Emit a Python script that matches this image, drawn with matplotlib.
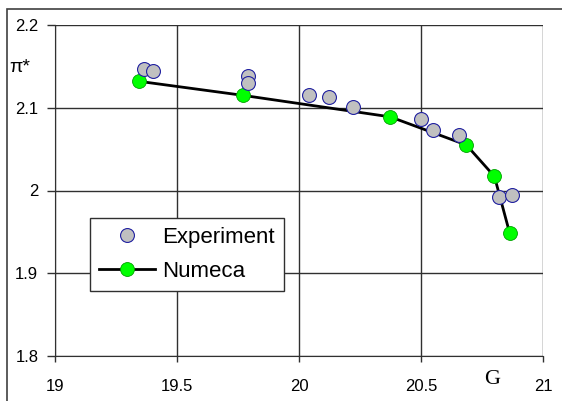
import matplotlib.pyplot as plt
from matplotlib.patches import Rectangle

# Experiment points (G, pi*)
exp_g = [19.363, 19.402, 19.793, 19.793, 20.043, 20.123, 20.221,
         20.501, 20.548, 20.657, 20.818, 20.874]
exp_pi = [2.147, 2.145, 2.138, 2.130, 2.116, 2.113, 2.101,
          2.086, 2.073, 2.067, 1.992, 1.995]

# Numeca calculation
num_g = [19.343, 19.770, 20.374, 20.686, 20.801, 20.863]
num_pi = [2.132, 2.115, 2.089, 2.055, 2.017, 1.949]

x_ticks = [19, 19.5, 20, 20.5, 21]
x_labels = ['19', '19.5', '20', '20.5', '21']
y_ticks = [1.8, 1.9, 2.0, 2.1, 2.2]
y_labels = ['1.8', '1.9', '2', '2.1', '2.2']

plt.rcParams['font.family'] = ['Liberation Sans', 'DejaVu Sans']

fig = plt.figure(figsize=(5.62, 4.01), dpi=100)
ax = fig.add_axes([55 / 562, 1 - 356 / 401, 488 / 562, 331 / 401])

# outer chart frame
fig.patches.append(Rectangle((7 / 562, -0.1), 1.2, 1.1 - 9 / 401,
                             transform=fig.transFigure, fill=False,
                             edgecolor='#404040', linewidth=1.2))

ax.plot(num_g, num_pi, color='black', linewidth=2, marker='o',
        markersize=10, markerfacecolor='#00ff00', markeredgecolor='#00a000',
        markeredgewidth=0.6, label='Numeca', zorder=3)
ax.plot(exp_g, exp_pi, linestyle='none', marker='o', markersize=10,
        markerfacecolor='#c0c0c0', markeredgecolor='#2020a0',
        markeredgewidth=0.8, label='Experiment', zorder=4)

ax.set_xlim(19, 21)
ax.set_ylim(1.8, 2.2)
ax.set_xticks(x_ticks)
ax.set_xticklabels(x_labels)
ax.set_yticks(y_ticks)
ax.set_yticklabels(y_labels)
ax.tick_params(direction='out', width=1, colors='#303030',
               labelsize=12, labelcolor='black')
ax.tick_params(axis='x', length=4.5, pad=12)
ax.tick_params(axis='y', length=6, pad=6)
ax.grid(True, color='#303030', linewidth=1)
ax.set_axisbelow(True)
for side in ['top', 'right']:
    ax.spines[side].set_visible(False)
for side in ['left', 'bottom']:
    ax.spines[side].set_color('#303030')

fig.text(9 / 562, 1 - 67 / 401, 'π*', fontsize=14, va='center', ha='left')
fig.text(492 / 562, 1 - 379 / 401, 'G', fontsize=16, va='center',
         ha='center', family='Liberation Serif')

handles, labels = ax.get_legend_handles_labels()
leg = ax.legend(handles[::-1], labels[::-1], loc='lower left',
                bbox_to_anchor=(0.072, 0.196), borderaxespad=0,
                fontsize=16, handlelength=2.5, handletextpad=0.35,
                borderpad=0.4, labelspacing=0.6, fancybox=False,
                framealpha=1, edgecolor='#303030')
leg.get_frame().set_linewidth(1)

fig.savefig('out.png', dpi=100)
